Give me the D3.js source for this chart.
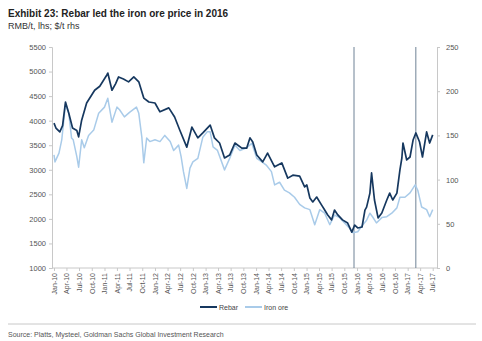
<!DOCTYPE html>
<html>
<head>
<meta charset="utf-8">
<script src="https://cdn.jsdelivr.net/npm/d3@7"></script>
<style>
  body { margin: 0; background: #fff; }
  svg { display: block; }
  text { font-family: "Liberation Sans Narrow", "Liberation Sans", Arial, sans-serif; }
</style>
</head>
<body>
<div id="chart"></div>
<script>
// Rebar, RMB/t (left axis)
var rebarDates = ["2010-01-01","2010-01-15","2010-02-12","2010-03-04","2010-03-25","2010-04-18","2010-05-15","2010-06-15","2010-06-28","2010-07-20","2010-08-25","2010-10-22","2010-11-28","2011-01-18","2011-01-25","2011-02-24","2011-03-22","2011-04-13","2011-05-18","2011-06-24","2011-08-01","2011-09-06","2011-10-12","2011-11-18","2012-01-01","2012-02-06","2012-04-10","2012-05-22","2012-06-28","2012-08-18","2012-09-24","2012-11-06","2012-12-12","2013-02-03","2013-03-06","2013-04-12","2013-05-18","2013-06-24","2013-08-01","2013-09-20","2013-10-25","2013-11-18","2013-12-08","2014-01-06","2014-02-18","2014-03-25","2014-05-15","2014-07-06","2014-08-18","2014-09-24","2014-11-12","2014-12-18","2015-01-03","2015-01-25","2015-02-15","2015-03-15","2015-04-20","2015-05-12","2015-06-03","2015-07-01","2015-07-22","2015-08-15","2015-09-18","2015-10-25","2015-11-24","2015-12-15","2016-01-06","2016-02-06","2016-02-27","2016-03-10","2016-04-03","2016-04-15","2016-05-06","2016-06-01","2016-06-28","2016-08-03","2016-08-24","2016-09-15","2016-10-15","2016-11-06","2016-11-20","2016-11-28","2016-12-25","2017-01-18","2017-02-09","2017-03-01","2017-03-28","2017-04-18","2017-05-18","2017-06-09","2017-07-01"];
var rebarValues = [3950,3850,3770,3900,4380,4150,3850,3800,3670,4010,4360,4620,4700,4930,4970,4620,4750,4890,4850,4790,4890,4790,4460,4380,4360,4180,4260,4075,3810,3460,3870,3650,3750,3910,3650,3545,3240,3300,3545,3440,3440,3650,3565,3300,3160,3340,3060,3140,2830,2890,2870,2650,2690,2425,2345,2445,2280,2180,2080,1980,2180,2080,1980,1915,1730,1875,1815,1835,2180,2240,2525,2935,2385,2020,2120,2385,2525,2385,2525,3000,3240,3545,3200,3260,3605,3750,3565,3260,3770,3545,3710];

// Iron ore, $/t (right axis)
var oreDates = ["2010-01-01","2010-01-08","2010-02-06","2010-02-26","2010-03-25","2010-04-18","2010-05-08","2010-05-20","2010-06-15","2010-06-28","2010-07-20","2010-08-08","2010-09-08","2010-10-15","2010-11-20","2011-01-01","2011-01-25","2011-02-24","2011-04-01","2011-04-20","2011-05-25","2011-07-01","2011-08-20","2011-09-06","2011-09-28","2011-10-12","2011-11-02","2011-11-25","2012-01-01","2012-02-06","2012-03-12","2012-04-20","2012-05-15","2012-06-20","2012-07-08","2012-07-25","2012-08-18","2012-09-10","2012-10-01","2012-11-06","2012-12-12","2013-01-12","2013-02-03","2013-02-24","2013-03-28","2013-05-18","2013-06-24","2013-08-01","2013-09-06","2013-10-25","2013-12-01","2014-01-06","2014-02-12","2014-03-18","2014-04-22","2014-05-15","2014-06-20","2014-07-25","2014-08-30","2014-10-06","2014-11-12","2014-12-18","2015-01-25","2015-03-01","2015-04-06","2015-05-12","2015-06-18","2015-07-22","2015-08-28","2015-10-03","2015-11-08","2015-12-01","2016-01-06","2016-02-12","2016-03-10","2016-04-03","2016-04-22","2016-05-20","2016-06-28","2016-08-03","2016-09-08","2016-10-15","2016-11-06","2016-12-12","2017-01-18","2017-02-24","2017-03-15","2017-04-12","2017-05-18","2017-06-09","2017-07-01"];
var oreValues = [128,120,130,145,185,175,147,145,126,114,145,136,150,156,175,182,192,165,182,179,171,176,182,175,148,119,147,143,145,143,150,143,133,139,126,109,90,113,120,124,148,154,154,137,133,111,124,139,133,136,141,124,120,116,109,94,97,88,85,80,72,68,66,49,66,62,49,60,57,51,45,40,41,49,54,62,58,51,57,58,62,68,80,80,85,94,88,69,66,58,66];

var leftTicks = [1000,1500,2000,2500,3000,3500,4000,4500,5000,5500];
var rightTicks = [0,50,100,150,200,250];
var markerDates = ["2015-12-10","2017-03-01"];
var seriesNames = ["Rebar","Iron ore"];

var width = 482, height = 341;
var parse = d3.timeParse("%Y-%m-%d");
var tickFont = "'Liberation Sans Narrow', Arial, sans-serif";

var rebar = rebarDates.map(function(d, i) { return {date: parse(d), value: rebarValues[i]}; });
var ore = oreDates.map(function(d, i) { return {date: parse(d), value: oreValues[i]}; });

var svg = d3.select("#chart").append("svg")
    .attr("width", width)
    .attr("height", height);

var x = d3.scaleTime()
    .domain([parse("2010-01-01"), parse("2017-08-01")])
    .range([54, 437]);
var yL = d3.scaleLinear().domain([1000, 5500]).range([268, 47]);
var yR = d3.scaleLinear().domain([0, 250]).range([268, 47]);

// title block
svg.append("text").attr("x", 8).attr("y", 17)
    .style("font-size", "10px").style("font-weight", "bold").style("fill", "#222")
    .text("Exhibit 23: Rebar led the iron ore price in 2016");
svg.append("text").attr("x", 8).attr("y", 29)
    .style("font-size", "9px").style("fill", "#333")
    .text("RMB/t, lhs; $/t rhs");

// left axis
var gL = svg.append("g").attr("transform", "translate(52,0)")
    .call(d3.axisLeft(yL).tickValues(leftTicks).tickFormat(d3.format("d")).tickSize(3).tickPadding(3));
gL.select(".domain").attr("stroke", "#c8c8c8");
gL.selectAll(".tick line").attr("stroke", "#c8c8c8");
gL.selectAll(".tick text").style("font-size", "7.5px").style("fill", "#555")
    .style("font-family", tickFont);

// right axis
var gR = svg.append("g").attr("transform", "translate(437,0)")
    .call(d3.axisRight(yR).tickValues(rightTicks).tickSize(3).tickPadding(6));
gR.select(".domain").attr("stroke", "#c8c8c8");
gR.selectAll(".tick line").attr("stroke", "#c8c8c8");
gR.selectAll(".tick text").style("font-size", "7.5px").style("fill", "#555")
    .style("font-family", tickFont);

// bottom axis, quarterly
var quarters = d3.timeMonth.range(parse("2010-01-01"), parse("2017-07-02"), 3);
var gX = svg.append("g").attr("transform", "translate(0,268)")
    .call(d3.axisBottom(x).tickValues(quarters).tickSize(3).tickFormat(d3.timeFormat("%b-%y")));
gX.select(".domain").attr("stroke", "#c8c8c8").attr("d", "M52,0H437");
gX.selectAll(".tick line").attr("stroke", "#c8c8c8");
gX.selectAll(".tick text")
    .style("font-size", "7px").style("fill", "#555")
    .style("font-family", tickFont)
    .attr("text-anchor", "end")
    .attr("transform", "rotate(-90)")
    .attr("x", -5).attr("y", 0).attr("dy", "0.32em");

// marker lines
svg.selectAll(".marker").data(markerDates).enter().append("line")
    .attr("class", "marker")
    .attr("x1", function(d) { return x(parse(d)); })
    .attr("x2", function(d) { return x(parse(d)); })
    .attr("y1", yL(5500)).attr("y2", yL(1000))
    .attr("stroke", "#6f8296").attr("stroke-width", 1);

// series
var lineL = d3.line().x(function(d) { return x(d.date); }).y(function(d) { return yL(d.value); });
var lineR = d3.line().x(function(d) { return x(d.date); }).y(function(d) { return yR(d.value); });

svg.append("path").datum(ore)
    .attr("fill", "none").attr("stroke", "#a9cbe9").attr("stroke-width", 1.5)
    .attr("stroke-linejoin", "round").attr("d", lineR);
svg.append("path").datum(rebar)
    .attr("fill", "none").attr("stroke", "#16385f").attr("stroke-width", 1.7)
    .attr("stroke-linejoin", "round").attr("d", lineL);

// legend
var colors = ["#16385f", "#a9cbe9"];
var legX = [200, 245];
var leg = svg.selectAll(".leg").data(seriesNames).enter().append("g")
    .attr("class", "leg")
    .attr("transform", function(d, i) { return "translate(" + legX[i] + ",307)"; });
leg.append("line").attr("x1", 0).attr("x2", 17).attr("y1", 0).attr("y2", 0)
    .attr("stroke", function(d, i) { return colors[i]; }).attr("stroke-width", 2);
leg.append("text").attr("x", 19).attr("y", 2.5)
    .style("font-size", "7px").style("fill", "#444")
    .text(function(d) { return d; });

// footer
svg.append("line").attr("x1", 8).attr("x2", 476).attr("y1", 324).attr("y2", 324)
    .attr("stroke", "#c8c8c8").attr("stroke-width", 1);
svg.append("text").attr("x", 8).attr("y", 337)
    .style("font-size", "7px").style("fill", "#555")
    .text("Source: Platts, Mysteel, Goldman Sachs Global Investment Research");
</script>
</body>
</html>
